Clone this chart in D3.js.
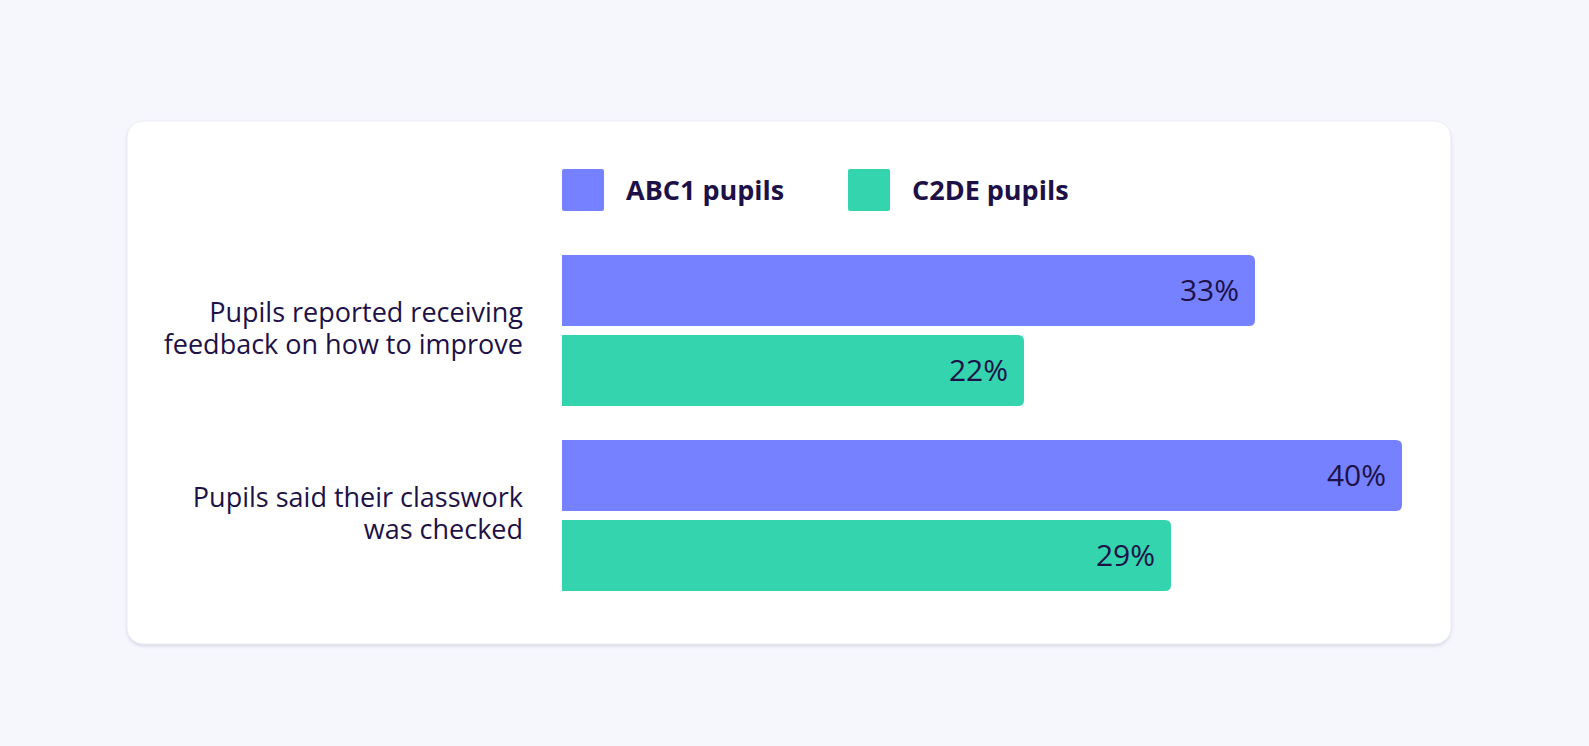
<!DOCTYPE html>
<html><head><meta charset="utf-8">
<script src="https://cdn.jsdelivr.net/npm/d3@7"></script>
<style>
html,body{margin:0;padding:0;background:#f6f6fd;}
svg{display:block;}
</style></head>
<body>
<svg id="chart" width="1589" height="746"></svg>
<script>
const categories = [
  ["Pupils reported receiving", "feedback on how to improve"],
  ["Pupils said their classwork", "was checked"]
];
const seriesNames = ["ABC1 pupils", "C2DE pupils"];
const abc1Values = [33, 40];
const c2deValues = [22, 29];
const seriesColors = ["#7681ff", "#33d4ae"];
const textColor = "#1d1147";
const fontFamily = "'Open Sans', Lato, sans-serif";

const svg = d3.select("#chart");

// card
const defs = svg.append("defs");
const f = defs.append("filter").attr("id","sh").attr("x","-5%").attr("y","-5%").attr("width","110%").attr("height","115%");
f.append("feDropShadow").attr("dx",0).attr("dy",2).attr("stdDeviation",1.5).attr("flood-color","#d8d8e6").attr("flood-opacity",0.9);
svg.append("rect").attr("x",127).attr("y",121).attr("width",1324).attr("height",523)
  .attr("rx",16).attr("fill","#fff").attr("stroke","#ececf5").attr("stroke-width",1).attr("filter","url(#sh)");

const x = d3.scaleLinear().domain([0, 40]).range([562, 1402]);
const y = d3.scaleBand().domain(d3.range(categories.length)).range([255, 591]).paddingInner(0.184).paddingOuter(0);
const ys = d3.scaleBand().domain(d3.range(seriesNames.length)).range([0, y.bandwidth()]).paddingInner(0.1125).paddingOuter(0);

const data = [];
categories.forEach((c, i) => {
  [abc1Values[i], c2deValues[i]].forEach((v, s) => data.push({i, s, v}));
});

function barPath(x0, x1, y0, h, r) {
  return `M${x0},${y0}H${x1 - r}Q${x1},${y0} ${x1},${y0 + r}V${y0 + h - r}Q${x1},${y0 + h} ${x1 - r},${y0 + h}H${x0}Z`;
}

const g = svg.append("g");
g.selectAll("path.bar").data(data).join("path")
  .attr("class","bar")
  .attr("d", d => barPath(x(0), x(d.v), y(d.i) + ys(d.s), ys.bandwidth(), 6))
  .attr("fill", d => seriesColors[d.s]);

g.selectAll("text.val").data(data).join("text")
  .attr("class","val")
  .attr("x", d => x(d.v) - 16)
  .attr("y", d => y(d.i) + ys(d.s) + ys.bandwidth() / 2)
  .attr("dy","0.36em")
  .attr("text-anchor","end")
  .attr("font-family", fontFamily)
  .attr("font-size", 30)
  .attr("fill", textColor)
  .text(d => d.v + "%");

// category labels
const lab = g.selectAll("text.cat").data(categories).join("text")
  .attr("class","cat")
  .attr("text-anchor","end")
  .attr("font-family", fontFamily)
  .attr("font-size", 27)
  .attr("fill", textColor);
lab.each(function(lines, i) {
  const cy = y(i) + y.bandwidth() / 2 - 2;
  const lh = 32.5;
  d3.select(this).selectAll("tspan").data(lines).join("tspan")
    .attr("x", 523)
    .attr("y", (d, k) => cy + (k - (lines.length - 1) / 2) * lh)
    .attr("dy", "0.36em")
    .text(d => d);
});

// legend
const legX = [562, 848];
const leg = svg.append("g").selectAll("g").data(seriesNames).join("g")
  .attr("transform", (d, i) => `translate(${legX[i]},169)`);
leg.append("rect").attr("width",42).attr("height",42).attr("rx",2)
  .attr("fill", (d, i) => seriesColors[i]);
leg.append("text").attr("x",64).attr("y",21).attr("dy","0.36em")
  .attr("font-family", fontFamily).attr("font-weight", 700).attr("font-size", 27)
  .attr("fill", textColor).text(d => d);
</script>
</body></html>
